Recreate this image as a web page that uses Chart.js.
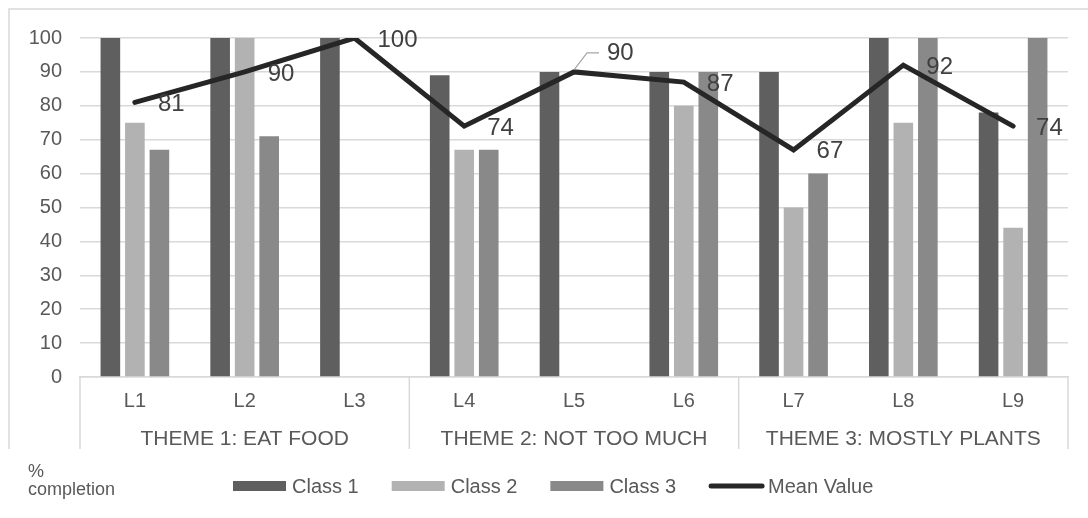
<!DOCTYPE html>
<html>
<head>
<meta charset="utf-8">
<script src="https://cdn.jsdelivr.net/npm/chart.js"></script>
<style>
  html, body { margin: 0; padding: 0; background: #ffffff; }
  canvas { display: block; }
</style>
</head>
<body>
<canvas id="chart" width="1088" height="518"></canvas>
<script>
// Lessons and the themes they belong to
const lessons = ['L1', 'L2', 'L3', 'L4', 'L5', 'L6', 'L7', 'L8', 'L9'];
const themes = ['THEME 1: EAT FOOD', 'THEME 2: NOT TOO MUCH', 'THEME 3: MOSTLY PLANTS'];
const lessonsPerTheme = [3, 3, 3];

// % completion per class (null = no result)
const class1 = [100, 100, 100, 89, 90, 90, 90, 100, 78];
const class2 = [75, 100, null, 67, null, 80, 50, 75, 44];
const class3 = [67, 71, null, 67, null, 90, 60, 100, 100];
const meanValue = [81, 90, 100, 74, 90, 87, 67, 92, 74];

const seriesNames = ['Class 1', 'Class 2', 'Class 3', 'Mean Value'];
const axisTitle = ['%', 'completion'];

const FONT = '"Liberation Sans", Arial, sans-serif';
const TEXT = '#595959';
const GRID = '#d9d9d9';

// Frame, theme grouping, value labels and legend
const decorations = {
  id: 'decorations',
  beforeDraw(chart) {
    const ctx = chart.ctx;
    ctx.save();
    ctx.strokeStyle = GRID;
    ctx.lineWidth = 1.5;
    ctx.beginPath();
    ctx.moveTo(9, 449);
    ctx.lineTo(9, 9);
    ctx.lineTo(chart.width, 9);
    ctx.stroke();
    ctx.restore();
  },
  afterDatasetsDraw(chart) {
    const ctx = chart.ctx;
    const x = chart.scales.x;
    const area = chart.chartArea;
    const bottom = 449;

    // theme separators and theme names
    ctx.save();
    ctx.strokeStyle = GRID;
    ctx.lineWidth = 1.5;
    let start = 0;
    const bounds = [area.left];
    lessonsPerTheme.forEach((n) => {
      const end = start + n;
      const right = end >= lessons.length ? area.right
        : (x.getPixelForTick(end - 1) + x.getPixelForTick(end)) / 2;
      bounds.push(right);
      start = end;
    });
    bounds.forEach((bx) => {
      ctx.beginPath();
      ctx.moveTo(bx, area.bottom);
      ctx.lineTo(bx, bottom);
      ctx.stroke();
    });
    ctx.fillStyle = TEXT;
    ctx.font = '21px ' + FONT;
    ctx.textAlign = 'center';
    ctx.textBaseline = 'middle';
    themes.forEach((t, i) => {
      ctx.fillText(t, (bounds[i] + bounds[i + 1]) / 2, 439);
    });
    ctx.restore();

    // mean value labels
    const meta = chart.getDatasetMeta(3);
    ctx.save();
    ctx.font = '24px ' + FONT;
    ctx.fillStyle = '#404040';
    ctx.textAlign = 'left';
    ctx.textBaseline = 'middle';
    meta.data.forEach((pt, i) => {
      const label = String(meanValue[i]);
      if (i === 4) {
        // this label sits above the line, tied back with a leader
        ctx.strokeStyle = '#a6a6a6';
        ctx.lineWidth = 1.2;
        ctx.beginPath();
        ctx.moveTo(pt.x, pt.y - 2);
        ctx.lineTo(pt.x + 13, pt.y - 19);
        ctx.lineTo(pt.x + 25, pt.y - 19);
        ctx.stroke();
        ctx.fillText(label, pt.x + 33, pt.y - 19);
      } else {
        ctx.fillText(label, pt.x + 23, pt.y + 2);
      }
    });
    ctx.restore();
  },
  afterDraw(chart) {
    const ctx = chart.ctx;
    ctx.save();
    // axis title at the lower left
    ctx.fillStyle = TEXT;
    ctx.font = '18px ' + FONT;
    ctx.textAlign = 'left';
    ctx.textBaseline = 'alphabetic';
    ctx.fillText(axisTitle[0], 28, 477);
    ctx.fillText(axisTitle[1], 28, 495);

    // legend
    const cy = 486;
    let lx = 233;
    ctx.font = '20px ' + FONT;
    ctx.textBaseline = 'middle';
    chart.data.datasets.forEach((ds) => {
      if (ds.type === 'line') {
        ctx.strokeStyle = ds.borderColor;
        ctx.lineWidth = 5;
        ctx.lineCap = 'round';
        ctx.beginPath();
        ctx.moveTo(lx + 2, cy);
        ctx.lineTo(lx + 53, cy);
        ctx.stroke();
      } else {
        ctx.fillStyle = ds.backgroundColor;
        ctx.fillRect(lx, cy - 5, 53, 10);
      }
      ctx.fillStyle = TEXT;
      ctx.fillText(ds.label, lx + 59, cy + 1);
      lx += 59 + ctx.measureText(ds.label).width + 33;
    });
    ctx.restore();
  }
};

const barStyle = { barPercentage: 0.8, categoryPercentage: 0.67, borderWidth: 0, order: 1 };

new Chart(document.getElementById('chart'), {
  type: 'bar',
  data: {
    labels: lessons,
    datasets: [
      Object.assign({ label: seriesNames[0], data: class1, backgroundColor: '#5f5f5f' }, barStyle),
      Object.assign({ label: seriesNames[1], data: class2, backgroundColor: '#b2b2b2' }, barStyle),
      Object.assign({ label: seriesNames[2], data: class3, backgroundColor: '#898989' }, barStyle),
      {
        type: 'line',
        label: seriesNames[3],
        data: meanValue,
        borderColor: '#262626',
        borderWidth: 5,
        pointRadius: 0,
        tension: 0,
        borderCapStyle: 'round',
        borderJoinStyle: 'miter',
        order: 0
      }
    ]
  },
  options: {
    responsive: false,
    animation: false,
    events: [],
    layout: { padding: { left: 0, right: 20, top: 38, bottom: 69 } },
    plugins: { legend: { display: false }, tooltip: { enabled: false } },
    scales: {
      x: {
        grid: { display: false, drawTicks: false },
        border: { display: true, color: GRID, width: 1.5 },
        ticks: { color: TEXT, font: { family: FONT, size: 20 }, padding: 12 },
        afterFit: (s) => { s.height = 72; }
      },
      y: {
        min: 0,
        max: 100,
        grid: { color: GRID, lineWidth: 1.5, drawTicks: false },
        border: { display: false },
        ticks: { stepSize: 10, color: TEXT, font: { family: FONT, size: 20 }, padding: 18 },
        afterFit: (s) => { s.width = 80; }
      }
    }
  },
  plugins: [decorations]
});
</script>
</body>
</html>
